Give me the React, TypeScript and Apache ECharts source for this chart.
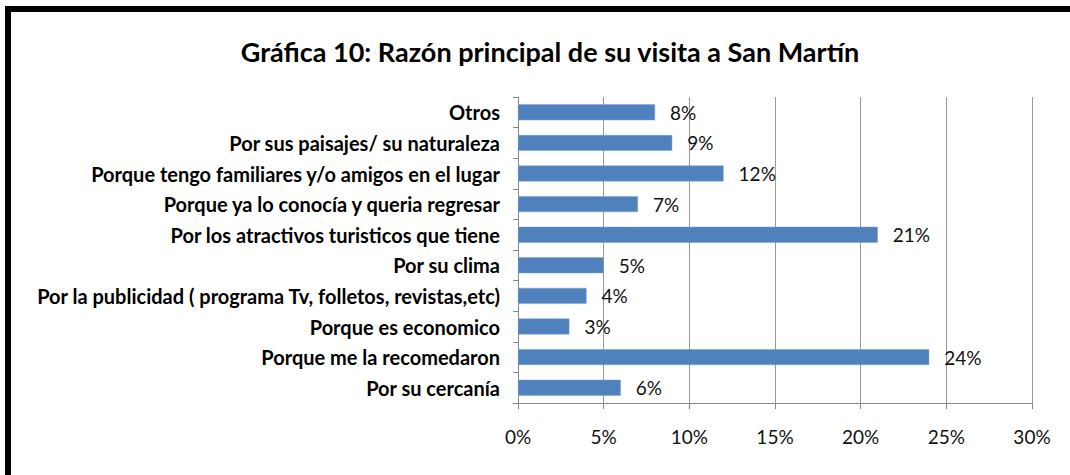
import React, { useEffect, useRef } from "react";
import * as echarts from "echarts";

const categories = [
  "Otros",
  "Por sus paisajes/ su naturaleza",
  "Porque tengo familiares y/o amigos en el lugar",
  "Porque ya lo conocía y queria regresar",
  "Por los atractivos turisticos que tiene",
  "Por su clima",
  "Por la publicidad ( programa Tv, folletos, revistas,etc)",
  "Porque es economico",
  "Porque me la recomedaron",
  "Por su cercanía",
];
const values = [8, 9, 12, 7, 21, 5, 4, 3, 24, 6];
const titleText = "Gráfica 10: Razón principal de su visita a San Martín";

export default function App() {
  const ref = useRef<HTMLDivElement>(null);
  useEffect(() => {
    if (!ref.current) return;
    const chart = echarts.init(ref.current, undefined, { renderer: "svg" });
    const font = "Lato, 'Open Sans', sans-serif";
    chart.setOption({
      animation: false,
      backgroundColor: "#ffffff",
      title: {
        text: titleText,
        left: 545,
        textAlign: "center",
        top: 33,
        textStyle: { fontFamily: font, fontSize: 27, fontWeight: "bold", color: "#000" },
      },
      graphic: [
        {
          type: "rect",
          shape: { x: 8, y: 9, width: 1120, height: 520 },
          style: { fill: "none", stroke: "#000", lineWidth: 6 },
        },
      ],
      grid: { left: 518, right: 38, top: 97, bottom: 72, containLabel: false },
      xAxis: {
        type: "value",
        min: 0,
        max: 30,
        interval: 5,
        axisLine: { show: true, lineStyle: { color: "#888", width: 1 } },
        axisTick: { show: true, length: 6, lineStyle: { color: "#888" } },
        splitLine: { show: true, lineStyle: { color: "#999", width: 1 } },
        axisLabel: {
          formatter: "{value}%",
          margin: 24,
          fontFamily: font,
          fontSize: 19,
          color: "#111",
        },
      },
      yAxis: {
        type: "category",
        data: categories,
        inverse: true,
        axisLine: { show: true, lineStyle: { color: "#888", width: 1 } },
        axisTick: { show: true, length: 5, lineStyle: { color: "#888" } },
        axisLabel: {
          margin: 18,
          fontFamily: font,
          fontSize: 20,
          fontWeight: "bold",
          color: "#000",
        },
      },
      series: [
        {
          type: "bar",
          data: values,
          barWidth: "52%",
          itemStyle: { color: "#4F81BD", borderColor: "#7aa0d0", borderWidth: 0.5 },
          label: {
            show: true,
            position: "right",
            distance: 15,
            formatter: "{c}%",
            fontFamily: font,
            fontSize: 19,
            color: "#111",
          },
        },
      ],
    });
    return () => chart.dispose();
  }, []);
  return (
    <div
      ref={ref}
      style={{ position: "fixed", left: 0, top: 0, width: 1070, height: 475 }}
    />
  );
}
